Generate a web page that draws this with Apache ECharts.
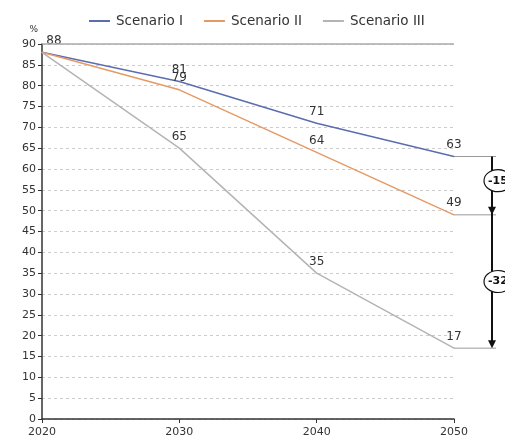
<!DOCTYPE html>
<html><head><meta charset="utf-8">
<script src="https://cdn.jsdelivr.net/npm/echarts@6/dist/echarts.min.js"></script>
<style>html,body{margin:0;padding:0;background:#fff}#c{width:505px;height:446px}</style>
</head><body><div id="c"></div>
<script>
const years = [2020, 2030, 2040, 2050];
const scenarioI = [88, 81, 71, 63];
const scenarioII = [88, 79, 64, 49];
const scenarioIII = [88, 65, 35, 17];
const seriesNames = ['Scenario I', 'Scenario II', 'Scenario III'];
const diffLabels = ['-15', '-32'];
const yTicks = [0, 90, 5];

const FONT = 'DejaVu Sans';
const chart = echarts.init(document.getElementById('c'));
function mk(name, vals, color) {
  return {
    name, type: 'line', data: years.map((y, i) => [y, vals[i]]),
    symbol: 'circle', symbolSize: 1, showSymbol: true,
    lineStyle: { color, width: 1.5 }, itemStyle: { color },
    label: { show: true, position: 'top', color: '#333', fontFamily: FONT, fontSize: 12, distance: 5,
      formatter: p => (p.dataIndex === 0 && name !== 'Scenario I') ? '' : String(p.value[1]) },
    labelLayout: p => p.dataIndex === 0 ? { dx: 12 } : {}
  };
}
chart.setOption({
  animation: false,
  textStyle: { fontFamily: FONT },
  legend: { top: 14, left: 89, padding: 0, itemWidth: 21, itemHeight: 2, itemGap: 21, icon: 'rect',
    textStyle: { fontFamily: FONT, fontSize: 13.5, color: '#333', padding: [0, 0, 0, 1] }, data: seriesNames },
  grid: { left: 42, right: 51, top: 44, bottom: 27 },
  xAxis: { type: 'value', min: 2020, max: 2050, interval: 10,
    axisLine: { lineStyle: { color: '#333', width: 1.5 } },
    axisTick: { show: true, length: 4, lineStyle: { color: '#333' } },
    axisLabel: { color: '#333', fontFamily: FONT, fontSize: 11, margin: 8, formatter: v => String(v) },
    splitLine: { show: false } },
  yAxis: { type: 'value', min: yTicks[0], max: yTicks[1], interval: yTicks[2], name: '%',
    nameLocation: 'end', nameGap: 10, nameTextStyle: { color: '#333', fontFamily: FONT, fontSize: 9, align: 'right', padding: [0, 4, 0, 0] },
    axisLine: { show: true, lineStyle: { color: '#333', width: 1.5 } },
    axisTick: { show: true, length: 4, lineStyle: { color: '#333' } },
    axisLabel: { color: '#333', fontFamily: FONT, fontSize: 11, margin: 6 },
    splitLine: { show: true, lineStyle: { color: '#ccc', type: [3, 3], width: 1 } } },
  series: [
    mk(seriesNames[0], scenarioI, '#5a6db0'),
    mk(seriesNames[1], scenarioII, '#e59a66'),
    mk(seriesNames[2], scenarioIII, '#b4b4b4')
  ]
});
const pTopL = chart.convertToPixel({ gridIndex: 0 }, [2020, 90]);
const pTopR = chart.convertToPixel({ gridIndex: 0 }, [2050, 90]);
const ends = [scenarioI[3], scenarioII[3], scenarioIII[3]].map(v => chart.convertToPixel({ gridIndex: 0 }, [2050, v]));
const ax = 492;
const g = [];
g.push({ type: 'line', shape: { x1: pTopL[0], y1: pTopL[1], x2: pTopR[0], y2: pTopR[1] }, style: { stroke: '#aaa', lineWidth: 1.5 }, z: 5 });
ends.forEach(p => g.push({ type: 'line', shape: { x1: p[0], y1: p[1], x2: ax + 4, y2: p[1] }, style: { stroke: '#999', lineWidth: 1 } }));
g.push({ type: 'line', shape: { x1: ax, y1: ends[0][1], x2: ax, y2: ends[2][1] - 4 }, style: { stroke: '#111', lineWidth: 2 } });
[ends[1], ends[2]].forEach(p => g.push({ type: 'polygon', shape: { points: [[ax - 4, p[1] - 8], [ax + 4, p[1] - 8], [ax, p[1]]] }, style: { fill: '#111' } }));
const offs = [-5, 0];
[[ends[0], ends[1]], [ends[1], ends[2]]].forEach((pr, i) => {
  const cy = (pr[0][1] + pr[1][1]) / 2 + offs[i];
  g.push({ type: 'ellipse', shape: { cx: 498, cy, rx: 14, ry: 11 }, style: { fill: '#fff', stroke: '#111', lineWidth: 1.2 }, z: 10 });
  g.push({ type: 'text', x: 488, y: cy, style: { text: diffLabels[i], fontFamily: FONT, fontSize: 11, fontWeight: 'bold', fill: '#111', verticalAlign: 'middle', align: 'left' }, z: 11 });
});
chart.setOption({ graphic: g });
</script></body></html>
